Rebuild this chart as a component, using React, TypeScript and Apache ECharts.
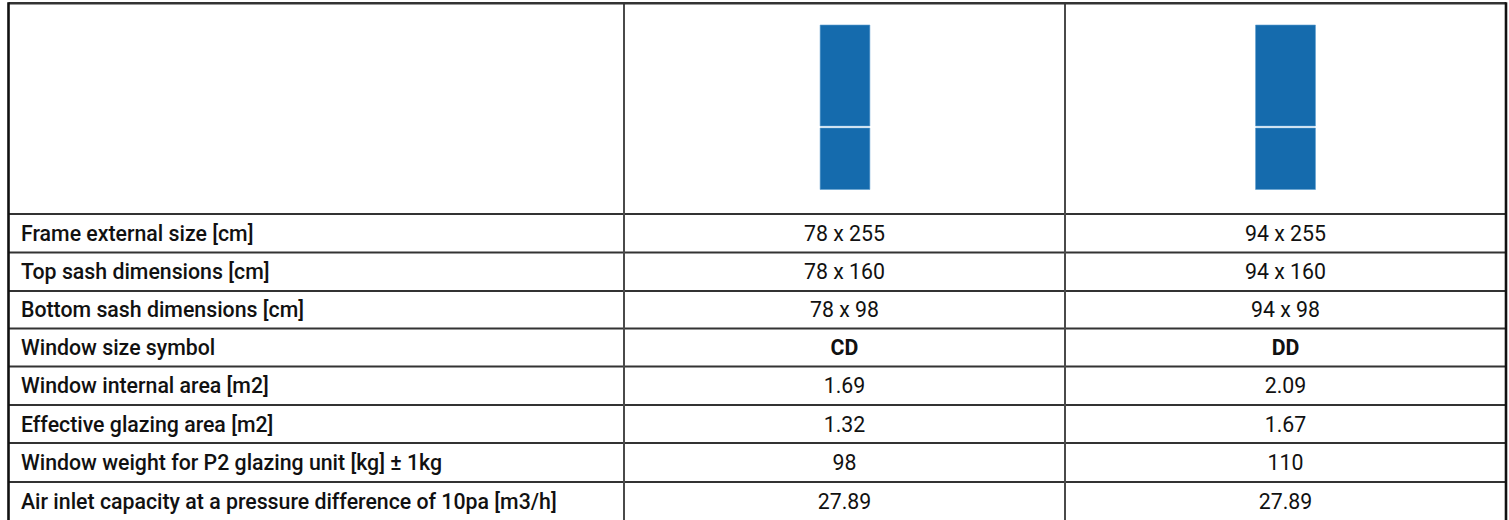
import React, { useEffect, useRef } from "react";
import * as echarts from "echarts";

const rowLabels = [
  "Frame external size [cm]",
  "Top sash dimensions [cm]",
  "Bottom sash dimensions [cm]",
  "Window size symbol",
  "Window internal area [m2]",
  "Effective glazing area [m2]",
  "Window weight for P2 glazing unit [kg] ± 1kg",
  "Air inlet capacity at a pressure difference of 10pa [m3/h]",
];
const columnOne = ["78 x 255", "78 x 160", "78 x 98", "CD", "1.69", "1.32", "98", "27.89"];
const columnTwo = ["94 x 255", "94 x 160", "94 x 98", "DD", "2.09", "1.67", "110", "27.89"];
const boldRow = 3;
const sashWidths = [78, 94];
const topSash = 160;
const bottomSash = 98;

const rowLines = [214, 252.5, 291, 328.5, 366.5, 405, 443, 482];
const rowBottom = 520;
const xLeft = 8.5;
const xCol1 = 624;
const xCol2 = 1065;
const xRight = 1506;
const yTop = 3.3;
const LINE = "#333333";
const BLUE = "#156bad";
const FONT = "Roboto";

export default function App() {
  const ref = useRef<HTMLDivElement>(null);
  useEffect(() => {
    document.body.style.margin = "0";
    const chart = echarts.init(ref.current!, null, { renderer: "svg" });

    const pxPerCm = 164.5 / (topSash + bottomSash);
    const grids = [845, 1285.5].map((cx) => ({
      left: cx - 100 * pxPerCm,
      width: 200 * pxPerCm,
      top: 25,
      height: 164.5,
      containLabel: false,
    }));
    const axisOff = { show: false };
    const xAxes = grids.map((_, i) => ({ type: "value", gridIndex: i, min: -100, max: 100, ...axisOff }));
    const yAxes = grids.map((_, i) => ({
      type: "value",
      gridIndex: i,
      min: 0,
      max: topSash + bottomSash,
      ...axisOff,
    }));
    const series = sashWidths.map((w, i) => ({
      type: "custom",
      xAxisIndex: i,
      yAxisIndex: i,
      silent: true,
      clip: false,
      data: [
        [-w / 2, w / 2, 0, bottomSash],
        [-w / 2, w / 2, bottomSash, bottomSash + topSash],
      ],
      encode: { x: [0, 1], y: [2, 3] },
      renderItem: (_p: any, api: any) => {
        const a = api.coord([api.value(0), api.value(3)]);
        const b = api.coord([api.value(1), api.value(2)]);
        const isBottom = api.value(2) === 0;
        const y0 = a[1] + (isBottom ? 1 : 0);
        const y1 = b[1] - (isBottom ? 0 : 1);
        return {
          type: "rect",
          shape: { x: a[0], y: y0, width: b[0] - a[0], height: y1 - y0 },
          style: { fill: BLUE, stroke: "#5f9fd0", lineWidth: 0.6 },
        };
      },
    }));

    const elements: any[] = [];
    const hLine = (y: number, w: number) =>
      elements.push({
        type: "line",
        shape: { x1: xLeft, y1: y, x2: xRight, y2: y },
        style: { stroke: LINE, lineWidth: w },
      });
    const vLine = (x: number, w: number, color = LINE) =>
      elements.push({
        type: "line",
        shape: { x1: x, y1: yTop - 1, x2: x, y2: rowBottom },
        style: { stroke: color, lineWidth: w },
      });
    rowLines.forEach((y) => hLine(y, 1.8));
    vLine(xCol1, 2, "#4a4a4a");
    vLine(xCol2, 2, "#4a4a4a");
    hLine(yTop, 2.6);
    vLine(xLeft, 2.6, "#111");
    vLine(xRight, 2.6, "#111");

    rowLabels.forEach((label, i) => {
      const top = rowLines[i];
      const bottom = i + 1 < rowLines.length ? rowLines[i + 1] : rowBottom;
      const cy = (top + bottom) / 2;
      const bold = i === boldRow;
      const common = { fill: "#111", fontFamily: FONT, fontSize: 21.3, verticalAlign: "middle" };
      elements.push({
        type: "text",
        x: 21,
        y: cy,
        style: { ...common, text: label, align: "left", fontWeight: 500 },
      });
      elements.push({
        type: "text",
        x: (xCol1 + xCol2) / 2,
        y: cy,
        style: { ...common, text: columnOne[i], align: "center", fontWeight: bold ? 700 : 400 },
      });
      elements.push({
        type: "text",
        x: (xCol2 + xRight) / 2,
        y: cy,
        style: { ...common, text: columnTwo[i], align: "center", fontWeight: bold ? 700 : 400 },
      });
    });

    chart.setOption({
      animation: false,
      backgroundColor: "#ffffff",
      grid: grids,
      xAxis: xAxes,
      yAxis: yAxes,
      series,
      graphic: { elements },
    });
    return () => chart.dispose();
  }, []);
  return <div ref={ref} style={{ width: 1509, height: 520 }} />;
}
